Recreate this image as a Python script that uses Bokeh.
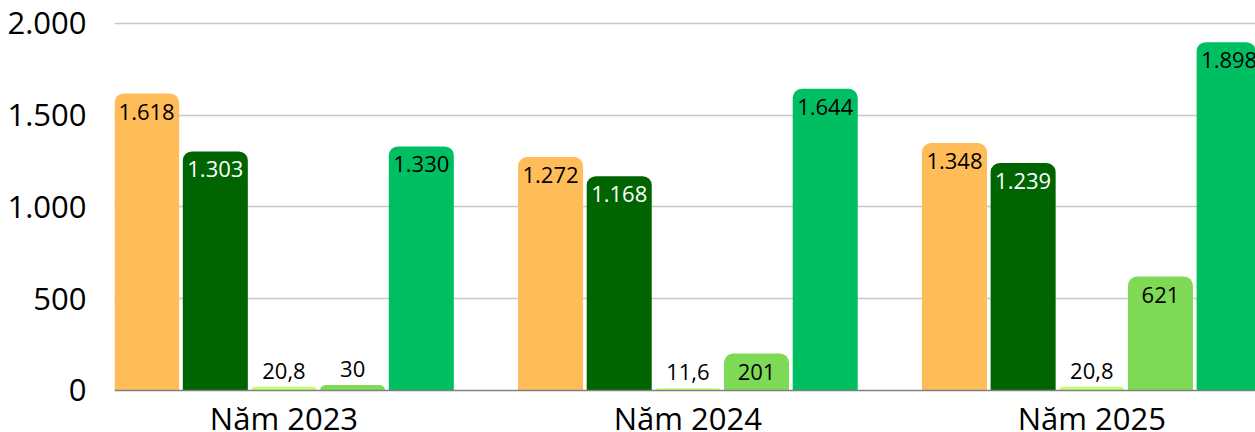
from bokeh.plotting import figure
from bokeh.models import ColumnDataSource, FixedTicker
from bokeh.transform import dodge
from bokeh.core.properties import value
from bokeh.embed import file_html
from bokeh.resources import INLINE

years = ["Năm 2023", "Năm 2024", "Năm 2025"]
s1 = [1618, 1272, 1348]
s2 = [1303, 1168, 1239]
s3 = [20.8, 11.6, 20.8]
s4 = [30, 201, 621]
s5 = [1330, 1644, 1898]
series = [s1, s2, s3, s4, s5]
colors = ["#FFBD59", "#006400", "#C1FF72", "#7ED957", "#00BF63"]
label_colors = ["#000000", "#FFFFFF", "#000000", "#000000", "#000000"]
y_ticks = [0, 500, 1000, 1500, 2000]

FONT = "Open Sans"


def vn(v):
    if float(v).is_integer():
        return f"{int(v):,}".replace(",", ".")
    s = f"{v:,.1f}"
    return s.replace(",", "X").replace(".", ",").replace("X", ".")


# frame spans the whole height; the band below y=0 holds the category names
p = figure(width=1255, height=432, output_backend="svg", toolbar_location=None,
           x_range=(-0.4196, 2.4053), y_range=(-228.9, 2038),
           min_border_left=114, min_border_right=0, min_border_top=16, min_border_bottom=0)
p.outline_line_color = None
p.background_fill_color = "white"
p.border_fill_color = "white"

p.xgrid.grid_line_color = None
p.ygrid.grid_line_color = "#C8C8C8"
p.ygrid.grid_line_width = 1.5
p.ygrid.ticker = FixedTicker(ticks=y_ticks[1:])

step = 0.170
width = 0.161
xs = list(range(len(years)))
for i, (vals, col, lc) in enumerate(zip(series, colors, label_colors)):
    off = (i - 2) * step
    inside = [v > 100 for v in vals]
    src = ColumnDataSource(dict(x=xs, top=vals))
    p.vbar(x=dodge("x", off), top="top", bottom=0, width=width, source=src,
           fill_color=col, line_color=None, border_radius=(9, 9, 0, 0))
    in_idx = [k for k in range(len(vals)) if inside[k]]
    out_idx = [k for k in range(len(vals)) if not inside[k]]
    if in_idx:
        s_in = ColumnDataSource(dict(x=[xs[k] for k in in_idx], y=[vals[k] for k in in_idx],
                                     lab=[vn(vals[k]) for k in in_idx]))
        p.text(x=dodge("x", off), y="y", text="lab", source=s_in, text_align="center",
               text_baseline="middle", y_offset=18, text_font=value(FONT),
               text_font_size="22px", text_color=lc)
    if out_idx:
        s_out = ColumnDataSource(dict(x=[xs[k] for k in out_idx], y=[vals[k] for k in out_idx],
                                      lab=[vn(vals[k]) for k in out_idx]))
        p.text(x=dodge("x", off), y="y", text="lab", source=s_out, text_align="center",
               text_baseline="middle", y_offset=-16, text_font=value(FONT),
               text_font_size="22px", text_color="#000000")

# baseline (x axis line) at y = 0
p.hspan(y=[y_ticks[0]], line_color="#808080", line_width=1.5)

# category names under the baseline
cat_src = ColumnDataSource(dict(x=xs, y=[y_ticks[0]] * len(xs), lab=years))
p.text(x="x", y="y", text="lab", source=cat_src, text_align="center",
       text_baseline="middle", y_offset=28, text_font=value(FONT),
       text_font_size="31px", text_color="#000000")

p.xaxis.visible = False

p.yaxis.ticker = FixedTicker(ticks=y_ticks)
p.yaxis.major_label_overrides = {t: vn(t) for t in y_ticks}
p.yaxis.major_tick_line_color = None
p.yaxis.minor_tick_line_color = None
p.yaxis.axis_line_color = None
p.yaxis.major_label_text_font = FONT
p.yaxis.major_label_text_font_size = "31px"
p.yaxis.major_label_text_color = "#000000"
p.yaxis.major_label_standoff = 22

open("out.html", "w").write(file_html(p, INLINE))
